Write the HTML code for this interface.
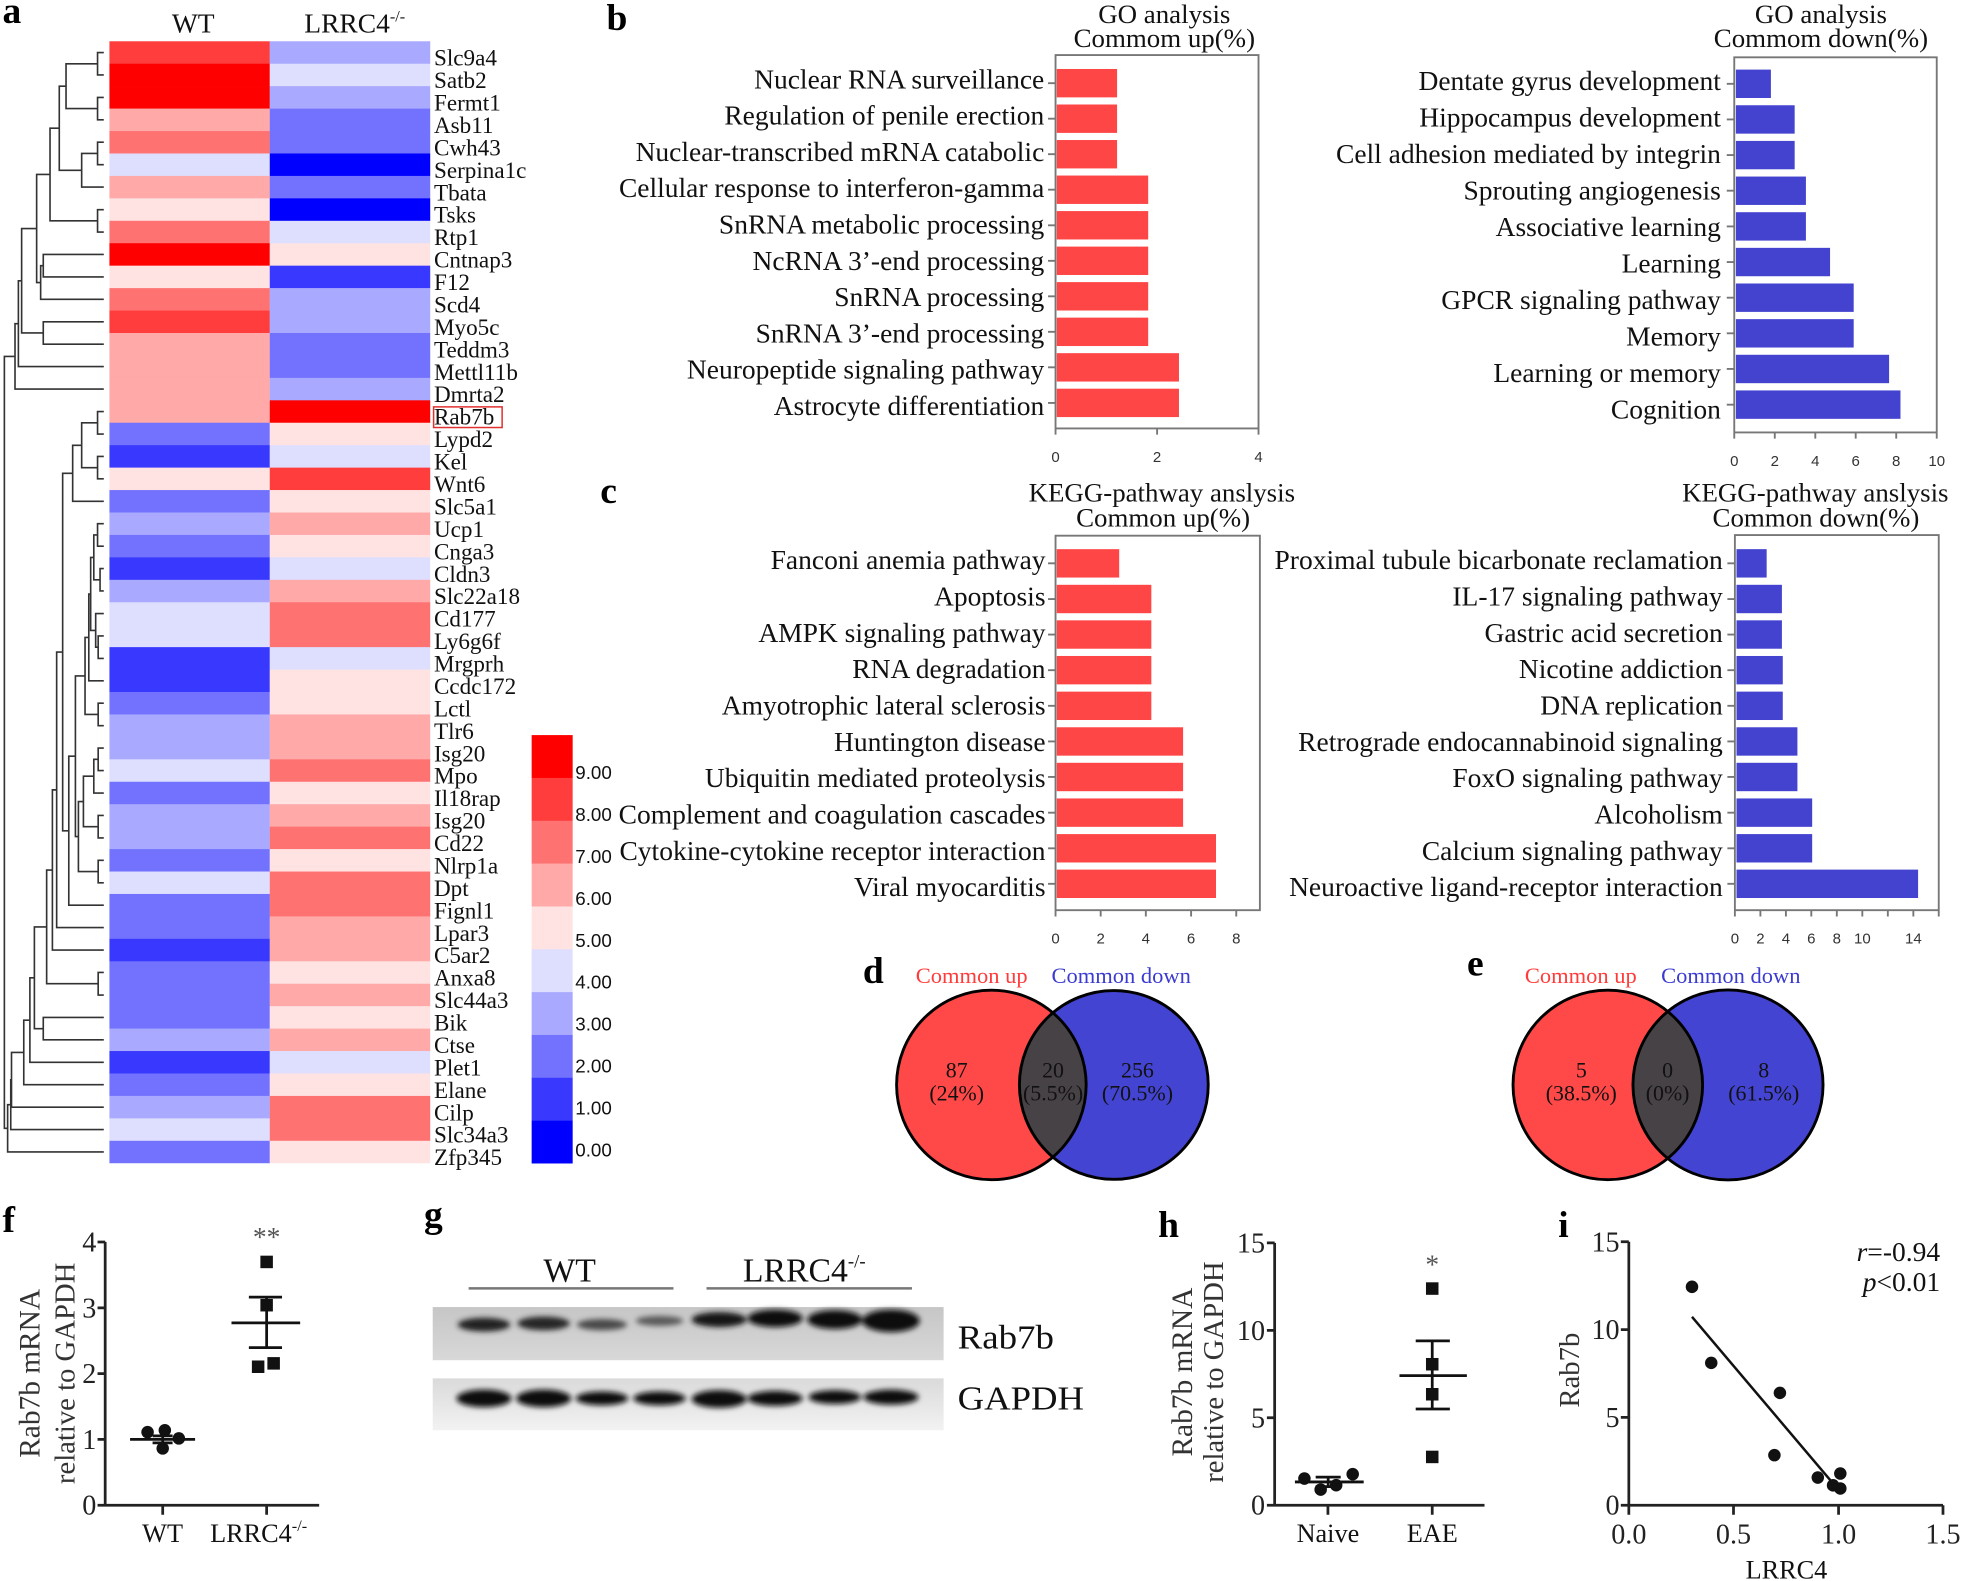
<!DOCTYPE html>
<html><head><meta charset="utf-8"><style>
html,body{margin:0;padding:0;background:#fff}
svg{display:block}
.c0{fill:#0000FF}.c1{fill:#3838FF}.c2{fill:#7272FF}.c3{fill:#A9A9FF}.c4{fill:#DEDEFF}
.c5{fill:#FFE3E3}.c6{fill:#FFA9A9}.c7{fill:#FF7272}.c8{fill:#FF3D3D}.c9{fill:#FF0000}
.gn{font-size:18.5px;fill:#111}
.cat{font-size:22px;fill:#111;text-anchor:end}
.ttl{font-size:21.5px;fill:#111;text-anchor:middle}
.tk{font-family:"Liberation Sans",sans-serif;font-size:12px;fill:#333;text-anchor:middle}
.pl{font-size:30px;font-weight:bold;fill:#000}
.rb{fill:#FF4646}.bb{fill:#4343CF}
.ax{font-size:21px;fill:#111}
.ay{font-size:22.5px;fill:#222}
</style></head><body>
<svg width="1961" height="1581" viewBox="0 0 1568 1264" preserveAspectRatio="none" font-family="'Liberation Serif', serif" xmlns="http://www.w3.org/2000/svg">
<defs>
<filter id="bl" x="-30%" y="-80%" width="160%" height="260%"><feGaussianBlur stdDeviation="2.2"/></filter>
<linearGradient id="gb1" x1="0" y1="0" x2="0" y2="1"><stop offset="0" stop-color="#c6c6c6"/><stop offset="1" stop-color="#d8d8d8"/></linearGradient>
<linearGradient id="gb2" x1="0" y1="0" x2="0" y2="1"><stop offset="0" stop-color="#dadada"/><stop offset="1" stop-color="#f2f2f2"/></linearGradient>
<clipPath id="cd"><circle cx="792.7" cy="867.4" r="75.8"/></clipPath>
<clipPath id="ce"><circle cx="1285.6" cy="867.4" r="75.8"/></clipPath>
</defs>

<!-- Panel letters -->
<text class="pl" x="2" y="18.5">a</text>
<text class="pl" x="485" y="24">b</text>
<text class="pl" x="480" y="402">c</text>
<text class="pl" x="690" y="786">d</text>
<text class="pl" x="1173" y="780">e</text>
<text class="pl" x="2" y="985">f</text>
<text class="pl" x="339" y="981">g</text>
<text class="pl" x="926" y="989">h</text>
<text class="pl" x="1246" y="989">i</text>

<!-- Heatmap header -->
<text x="154.5" y="26" font-size="22" fill="#111" text-anchor="middle">WT</text>
<text x="243.3" y="26" font-size="22" fill="#111">LRRC4<tspan font-size="13" dy="-9">-/-</tspan></text>

<!-- Heatmap cells -->
<g>
<rect x="87.5" y="33" width="128.3" height="18.2" class="c8"/><rect x="215.7" y="33" width="128.3" height="18.2" class="c3"/>
<rect x="87.5" y="50.94" width="128.3" height="18.2" class="c9"/><rect x="215.7" y="50.94" width="128.3" height="18.2" class="c4"/>
<rect x="87.5" y="68.88" width="128.3" height="18.2" class="c9"/><rect x="215.7" y="68.88" width="128.3" height="18.2" class="c3"/>
<rect x="87.5" y="86.82" width="128.3" height="18.2" class="c6"/><rect x="215.7" y="86.82" width="128.3" height="18.2" class="c2"/>
<rect x="87.5" y="104.76" width="128.3" height="18.2" class="c7"/><rect x="215.7" y="104.76" width="128.3" height="18.2" class="c2"/>
<rect x="87.5" y="122.7" width="128.3" height="18.2" class="c4"/><rect x="215.7" y="122.7" width="128.3" height="18.2" class="c0"/>
<rect x="87.5" y="140.64" width="128.3" height="18.2" class="c6"/><rect x="215.7" y="140.64" width="128.3" height="18.2" class="c2"/>
<rect x="87.5" y="158.58" width="128.3" height="18.2" class="c5"/><rect x="215.7" y="158.58" width="128.3" height="18.2" class="c0"/>
<rect x="87.5" y="176.52" width="128.3" height="18.2" class="c7"/><rect x="215.7" y="176.52" width="128.3" height="18.2" class="c4"/>
<rect x="87.5" y="194.46" width="128.3" height="18.2" class="c9"/><rect x="215.7" y="194.46" width="128.3" height="18.2" class="c5"/>
<rect x="87.5" y="212.4" width="128.3" height="18.2" class="c5"/><rect x="215.7" y="212.4" width="128.3" height="18.2" class="c1"/>
<rect x="87.5" y="230.34" width="128.3" height="18.2" class="c7"/><rect x="215.7" y="230.34" width="128.3" height="18.2" class="c3"/>
<rect x="87.5" y="248.28" width="128.3" height="18.2" class="c8"/><rect x="215.7" y="248.28" width="128.3" height="18.2" class="c3"/>
<rect x="87.5" y="266.22" width="128.3" height="18.2" class="c6"/><rect x="215.7" y="266.22" width="128.3" height="18.2" class="c2"/>
<rect x="87.5" y="284.16" width="128.3" height="18.2" class="c6"/><rect x="215.7" y="284.16" width="128.3" height="18.2" class="c2"/>
<rect x="87.5" y="302.1" width="128.3" height="18.2" class="c6"/><rect x="215.7" y="302.1" width="128.3" height="18.2" class="c3"/>
<rect x="87.5" y="320.04" width="128.3" height="18.2" class="c6"/><rect x="215.7" y="320.04" width="128.3" height="18.2" class="c9"/>
<rect x="87.5" y="337.98" width="128.3" height="18.2" class="c2"/><rect x="215.7" y="337.98" width="128.3" height="18.2" class="c5"/>
<rect x="87.5" y="355.92" width="128.3" height="18.2" class="c1"/><rect x="215.7" y="355.92" width="128.3" height="18.2" class="c4"/>
<rect x="87.5" y="373.86" width="128.3" height="18.2" class="c5"/><rect x="215.7" y="373.86" width="128.3" height="18.2" class="c8"/>
<rect x="87.5" y="391.8" width="128.3" height="18.2" class="c2"/><rect x="215.7" y="391.8" width="128.3" height="18.2" class="c5"/>
<rect x="87.5" y="409.74" width="128.3" height="18.2" class="c3"/><rect x="215.7" y="409.74" width="128.3" height="18.2" class="c6"/>
<rect x="87.5" y="427.68" width="128.3" height="18.2" class="c2"/><rect x="215.7" y="427.68" width="128.3" height="18.2" class="c5"/>
<rect x="87.5" y="445.62" width="128.3" height="18.2" class="c1"/><rect x="215.7" y="445.62" width="128.3" height="18.2" class="c4"/>
<rect x="87.5" y="463.56" width="128.3" height="18.2" class="c3"/><rect x="215.7" y="463.56" width="128.3" height="18.2" class="c6"/>
<rect x="87.5" y="481.5" width="128.3" height="18.2" class="c4"/><rect x="215.7" y="481.5" width="128.3" height="18.2" class="c7"/>
<rect x="87.5" y="499.44" width="128.3" height="18.2" class="c4"/><rect x="215.7" y="499.44" width="128.3" height="18.2" class="c7"/>
<rect x="87.5" y="517.38" width="128.3" height="18.2" class="c1"/><rect x="215.7" y="517.38" width="128.3" height="18.2" class="c4"/>
<rect x="87.5" y="535.32" width="128.3" height="18.2" class="c1"/><rect x="215.7" y="535.32" width="128.3" height="18.2" class="c5"/>
<rect x="87.5" y="553.26" width="128.3" height="18.2" class="c2"/><rect x="215.7" y="553.26" width="128.3" height="18.2" class="c5"/>
<rect x="87.5" y="571.2" width="128.3" height="18.2" class="c3"/><rect x="215.7" y="571.2" width="128.3" height="18.2" class="c6"/>
<rect x="87.5" y="589.14" width="128.3" height="18.2" class="c3"/><rect x="215.7" y="589.14" width="128.3" height="18.2" class="c6"/>
<rect x="87.5" y="607.08" width="128.3" height="18.2" class="c4"/><rect x="215.7" y="607.08" width="128.3" height="18.2" class="c7"/>
<rect x="87.5" y="625.02" width="128.3" height="18.2" class="c2"/><rect x="215.7" y="625.02" width="128.3" height="18.2" class="c5"/>
<rect x="87.5" y="642.96" width="128.3" height="18.2" class="c3"/><rect x="215.7" y="642.96" width="128.3" height="18.2" class="c6"/>
<rect x="87.5" y="660.9" width="128.3" height="18.2" class="c3"/><rect x="215.7" y="660.9" width="128.3" height="18.2" class="c7"/>
<rect x="87.5" y="678.84" width="128.3" height="18.2" class="c2"/><rect x="215.7" y="678.84" width="128.3" height="18.2" class="c5"/>
<rect x="87.5" y="696.78" width="128.3" height="18.2" class="c4"/><rect x="215.7" y="696.78" width="128.3" height="18.2" class="c7"/>
<rect x="87.5" y="714.72" width="128.3" height="18.2" class="c2"/><rect x="215.7" y="714.72" width="128.3" height="18.2" class="c7"/>
<rect x="87.5" y="732.66" width="128.3" height="18.2" class="c2"/><rect x="215.7" y="732.66" width="128.3" height="18.2" class="c6"/>
<rect x="87.5" y="750.6" width="128.3" height="18.2" class="c1"/><rect x="215.7" y="750.6" width="128.3" height="18.2" class="c6"/>
<rect x="87.5" y="768.54" width="128.3" height="18.2" class="c2"/><rect x="215.7" y="768.54" width="128.3" height="18.2" class="c5"/>
<rect x="87.5" y="786.48" width="128.3" height="18.2" class="c2"/><rect x="215.7" y="786.48" width="128.3" height="18.2" class="c6"/>
<rect x="87.5" y="804.42" width="128.3" height="18.2" class="c2"/><rect x="215.7" y="804.42" width="128.3" height="18.2" class="c5"/>
<rect x="87.5" y="822.36" width="128.3" height="18.2" class="c3"/><rect x="215.7" y="822.36" width="128.3" height="18.2" class="c6"/>
<rect x="87.5" y="840.3" width="128.3" height="18.2" class="c1"/><rect x="215.7" y="840.3" width="128.3" height="18.2" class="c4"/>
<rect x="87.5" y="858.24" width="128.3" height="18.2" class="c2"/><rect x="215.7" y="858.24" width="128.3" height="18.2" class="c5"/>
<rect x="87.5" y="876.18" width="128.3" height="18.2" class="c3"/><rect x="215.7" y="876.18" width="128.3" height="18.2" class="c7"/>
<rect x="87.5" y="894.12" width="128.3" height="18.2" class="c4"/><rect x="215.7" y="894.12" width="128.3" height="18.2" class="c7"/>
<rect x="87.5" y="912.06" width="128.3" height="17.94" class="c2"/><rect x="215.7" y="912.06" width="128.3" height="17.94" class="c5"/>
</g>

<!-- Gene labels -->
<g class="gn">
<text x="347" y="52.5">Slc9a4</text>
<text x="347" y="70.44">Satb2</text>
<text x="347" y="88.38">Fermt1</text>
<text x="347" y="106.32">Asb11</text>
<text x="347" y="124.26">Cwh43</text>
<text x="347" y="142.2">Serpina1c</text>
<text x="347" y="160.14">Tbata</text>
<text x="347" y="178.08">Tsks</text>
<text x="347" y="196.02">Rtp1</text>
<text x="347" y="213.96">Cntnap3</text>
<text x="347" y="231.9">F12</text>
<text x="347" y="249.84">Scd4</text>
<text x="347" y="267.78">Myo5c</text>
<text x="347" y="285.72">Teddm3</text>
<text x="347" y="303.66">Mettl11b</text>
<text x="347" y="321.6">Dmrta2</text>
<text x="347" y="339.54">Rab7b</text>
<text x="347" y="357.48">Lypd2</text>
<text x="347" y="375.42">Kel</text>
<text x="347" y="393.36">Wnt6</text>
<text x="347" y="411.3">Slc5a1</text>
<text x="347" y="429.24">Ucp1</text>
<text x="347" y="447.18">Cnga3</text>
<text x="347" y="465.12">Cldn3</text>
<text x="347" y="483.06">Slc22a18</text>
<text x="347" y="501">Cd177</text>
<text x="347" y="518.94">Ly6g6f</text>
<text x="347" y="536.88">Mrgprh</text>
<text x="347" y="554.82">Ccdc172</text>
<text x="347" y="572.76">Lctl</text>
<text x="347" y="590.7">Tlr6</text>
<text x="347" y="608.64">Isg20</text>
<text x="347" y="626.58">Mpo</text>
<text x="347" y="644.52">Il18rap</text>
<text x="347" y="662.46">Isg20</text>
<text x="347" y="680.4">Cd22</text>
<text x="347" y="698.34">Nlrp1a</text>
<text x="347" y="716.28">Dpt</text>
<text x="347" y="734.22">Fignl1</text>
<text x="347" y="752.16">Lpar3</text>
<text x="347" y="770.1">C5ar2</text>
<text x="347" y="788.04">Anxa8</text>
<text x="347" y="805.98">Slc44a3</text>
<text x="347" y="823.92">Bik</text>
<text x="347" y="841.86">Ctse</text>
<text x="347" y="859.8">Plet1</text>
<text x="347" y="877.74">Elane</text>
<text x="347" y="895.68">Cilp</text>
<text x="347" y="913.62">Slc34a3</text>
<text x="347" y="931.56">Zfp345</text>
</g>
<rect x="346.7" y="325.3" width="54.8" height="16.5" fill="none" stroke="#e03030" stroke-width="1.2"/>

<!-- Dendrogram -->
<path fill="none" stroke="#333" stroke-width="1.3" d="
M83 42 H78 V59.9 H83
M83 77.9 H78 V95.8 H83
M78 51 H52.8 V86.8 H78
M83 113.7 H78 V131.7 H83
M78 122.7 H65.3 V149.6 H83
M52.8 68.9 H47.4 V136.2 H65.3
M83 167.6 H78 V185.5 H83
M47.4 102.5 H40 V176.5 H78
M83 203.4 H34.6 V221.4 H83
M34.6 212.4 H32.5 V239.3 H83
M40 139.5 H29.3 V225.9 H32.5
M83 257.3 H34.6 V275.2 H83
M29.3 182.7 H17.3 V266.2 H34.6
M17.3 224.5 H14.7 V293.1 H83
M14.7 258.8 H12 V311.1 H83
M83 329 H78 V347 H83
M83 364.9 H78 V382.8 H83
M78 338 H65.3 V373.9 H78
M65.3 356 H58.1 V400.8 H83
M83 418.7 H78 V436.7 H83
M83 454.6 H80 V472.5 H83
M78 427.7 H75 V463.6 H80
M83 508.4 H78.5 V526.4 H83
M83 490.5 H76.5 V517.4 H78.5
M75 445.7 H72.5 V504 H76.5
M72.5 474.9 H71 V544.3 H83
M83 562.2 H78.5 V580.2 H83
M71 509.6 H68 V571.2 H78.5
M83 598.1 H78.5 V616.1 H83
M78.5 607.1 H75 V634 H83
M83 651.9 H78.5 V669.9 H83
M75 620.6 H66.7 V660.9 H78.5
M83 687.8 H78.5 V705.8 H83
M66.7 640.8 H62.7 V696.8 H78.5
M68 540.4 H60.3 V668.8 H62.7
M60.3 604.6 H55 V723.7 H83
M58.1 378.4 H50.1 V664.2 H55
M50.1 521.3 H45.3 V741.6 H83
M45.3 631.5 H41.9 V759.6 H83
M83 777.5 H78.5 V795.5 H83
M41.9 695.6 H37.3 V786.5 H78.5
M83 813.4 H34.6 V831.3 H83
M37.3 741.1 H27.5 V822.4 H34.6
M27.5 781.8 H23.9 V849.3 H83
M23.9 815.6 H19 V867.2 H83
M19 841.4 H9.2 V885.2 H83
M9.2 863.3 H8.6 V903.1 H83
M8.6 883.2 H6.1 V921 H83
M12 285 H3.5 V902.1 H6.1"/>

<!-- Colorbar -->
<g>
<rect x="425.1" y="587.7" width="32.8" height="34.5" class="c9"/>
<rect x="425.1" y="621.95" width="32.8" height="34.5" class="c8"/>
<rect x="425.1" y="656.2" width="32.8" height="34.5" class="c7"/>
<rect x="425.1" y="690.45" width="32.8" height="34.5" class="c6"/>
<rect x="425.1" y="724.7" width="32.8" height="34.5" class="c5"/>
<rect x="425.1" y="758.95" width="32.8" height="34.5" class="c4"/>
<rect x="425.1" y="793.2" width="32.8" height="34.5" class="c3"/>
<rect x="425.1" y="827.45" width="32.8" height="34.5" class="c2"/>
<rect x="425.1" y="861.7" width="32.8" height="34.5" class="c1"/>
<rect x="425.1" y="895.95" width="32.8" height="34.25" class="c0"/>
</g>
<g font-family="'Liberation Sans', sans-serif" font-size="15" fill="#111">
<text x="460" y="623">9.00</text>
<text x="460" y="656.5">8.00</text>
<text x="460" y="690">7.00</text>
<text x="460" y="723.5">6.00</text>
<text x="460" y="757">5.00</text>
<text x="460" y="790.5">4.00</text>
<text x="460" y="824">3.00</text>
<text x="460" y="857.5">2.00</text>
<text x="460" y="891">1.00</text>
<text x="460" y="924.5">0.00</text>
</g>

<!-- Panel b left -->
<text class="ttl" x="931" y="18.5">GO analysis</text>
<text class="ttl" x="931" y="37.5">Commom up(%)</text>
<g class="rb">
<rect x="845" y="55.15" width="48.2" height="22.7"/>
<rect x="845" y="83.55" width="48.2" height="22.7"/>
<rect x="845" y="111.95" width="48.2" height="22.7"/>
<rect x="845" y="140.35" width="73.1" height="22.7"/>
<rect x="845" y="168.75" width="73.1" height="22.7"/>
<rect x="845" y="197.15" width="73.1" height="22.7"/>
<rect x="845" y="225.55" width="73.1" height="22.7"/>
<rect x="845" y="253.95" width="73.1" height="22.7"/>
<rect x="845" y="282.35" width="97.7" height="22.7"/>
<rect x="845" y="310.75" width="97.7" height="22.7"/>
</g>
<path fill="none" stroke="#777" stroke-width="1.5" d="M844 44 V342.5 H1006.3 V44 Z M844 342.5 v5 M925.2 342.5 v5 M1006.3 342.5 v5
M838 66.5 h6 M838 94.9 h6 M838 123.3 h6 M838 151.7 h6 M838 180.1 h6 M838 208.5 h6 M838 236.9 h6 M838 265.3 h6 M838 293.7 h6 M838 322.1 h6"/>
<g class="cat">
<text x="835" y="70.6">Nuclear RNA surveillance</text>
<text x="835" y="99.6">Regulation of penile erection</text>
<text x="835" y="128.6">Nuclear-transcribed mRNA catabolic</text>
<text x="835" y="157.7">Cellular response to interferon-gamma</text>
<text x="835" y="186.7">SnRNA metabolic processing</text>
<text x="835" y="215.7">NcRNA 3’-end processing</text>
<text x="835" y="244.7">SnRNA processing</text>
<text x="835" y="273.7">SnRNA 3’-end processing</text>
<text x="835" y="302.8">Neuropeptide signaling pathway</text>
<text x="835" y="331.8">Astrocyte differentiation</text>
</g>
<g class="tk">
<text x="844" y="369.5">0</text><text x="925.2" y="369.5">2</text><text x="1006.3" y="369.5">4</text>
</g>

<!-- Panel b right -->
<text class="ttl" x="1456" y="18.5">GO analysis</text>
<text class="ttl" x="1456" y="37.5">Commom down(%)</text>
<g class="bb">
<rect x="1388" y="55.65" width="28" height="22.7"/>
<rect x="1388" y="84.15" width="47" height="22.7"/>
<rect x="1388" y="112.65" width="47" height="22.7"/>
<rect x="1388" y="141.15" width="56" height="22.7"/>
<rect x="1388" y="169.65" width="56" height="22.7"/>
<rect x="1388" y="198.15" width="75.3" height="22.7"/>
<rect x="1388" y="226.65" width="94.2" height="22.7"/>
<rect x="1388" y="255.15" width="94.2" height="22.7"/>
<rect x="1388" y="283.65" width="122.5" height="22.7"/>
<rect x="1388" y="312.15" width="131.6" height="22.7"/>
</g>
<path fill="none" stroke="#777" stroke-width="1.5" d="M1386.7 45.8 V345.7 H1548.6 V45.8 Z
M1386.7 345.7 v5 M1419.1 345.7 v5 M1451.5 345.7 v5 M1483.8 345.7 v5 M1516.2 345.7 v5 M1548.6 345.7 v5
M1380.7 67 h6 M1380.7 95.5 h6 M1380.7 124 h6 M1380.7 152.5 h6 M1380.7 181 h6 M1380.7 209.5 h6 M1380.7 238 h6 M1380.7 266.5 h6 M1380.7 295 h6 M1380.7 323.5 h6"/>
<g class="cat">
<text x="1376" y="72">Dentate gyrus development</text>
<text x="1376" y="101.2">Hippocampus development</text>
<text x="1376" y="130.3">Cell adhesion mediated by integrin</text>
<text x="1376" y="159.5">Sprouting angiogenesis</text>
<text x="1376" y="188.7">Associative learning</text>
<text x="1376" y="217.9">Learning</text>
<text x="1376" y="247">GPCR signaling pathway</text>
<text x="1376" y="276.2">Memory</text>
<text x="1376" y="305.4">Learning or memory</text>
<text x="1376" y="334.5">Cognition</text>
</g>
<g class="tk">
<text x="1386.7" y="372.5">0</text><text x="1419.1" y="372.5">2</text><text x="1451.5" y="372.5">4</text><text x="1483.8" y="372.5">6</text><text x="1516.2" y="372.5">8</text><text x="1548.6" y="372.5">10</text>
</g>

<!-- Panel c left -->
<text class="ttl" x="929" y="401">KEGG-pathway anslysis</text>
<text class="ttl" x="930" y="421">Common up(%)</text>
<g class="rb">
<rect x="845" y="439.05" width="49.9" height="22.7"/>
<rect x="845" y="467.55" width="75.6" height="22.7"/>
<rect x="845" y="495.95" width="75.6" height="22.7"/>
<rect x="845" y="524.45" width="75.6" height="22.7"/>
<rect x="845" y="552.95" width="75.6" height="22.7"/>
<rect x="845" y="581.45" width="101" height="22.7"/>
<rect x="845" y="609.85" width="101" height="22.7"/>
<rect x="845" y="638.35" width="101" height="22.7"/>
<rect x="845" y="666.85" width="127.3" height="22.7"/>
<rect x="845" y="695.25" width="127.3" height="22.7"/>
</g>
<path fill="none" stroke="#777" stroke-width="1.5" d="M844 428.3 V727.7 H1007.4 V428.3 Z
M844 727.7 v5 M880.1 727.7 v5 M916.2 727.7 v5 M952.4 727.7 v5 M988.5 727.7 v5
M838 450.4 h6 M838 478.9 h6 M838 507.3 h6 M838 535.8 h6 M838 564.3 h6 M838 592.8 h6 M838 621.2 h6 M838 649.7 h6 M838 678.2 h6 M838 706.6 h6"/>
<g class="cat">
<text x="836" y="455">Fanconi anemia pathway</text>
<text x="836" y="484.1">Apoptosis</text>
<text x="836" y="513.1">AMPK signaling pathway</text>
<text x="836" y="542.2">RNA degradation</text>
<text x="836" y="571.2">Amyotrophic lateral sclerosis</text>
<text x="836" y="600.3">Huntington disease</text>
<text x="836" y="629.4">Ubiquitin mediated proteolysis</text>
<text x="836" y="658.4">Complement and coagulation cascades</text>
<text x="836" y="687.5">Cytokine-cytokine receptor interaction</text>
<text x="836" y="716.5">Viral myocarditis</text>
</g>
<g class="tk">
<text x="844" y="754.5">0</text><text x="880.1" y="754.5">2</text><text x="916.2" y="754.5">4</text><text x="952.4" y="754.5">6</text><text x="988.5" y="754.5">8</text>
</g>

<!-- Panel c right -->
<text class="ttl" x="1451.5" y="401">KEGG-pathway anslysis</text>
<text class="ttl" x="1452" y="421">Common down(%)</text>
<g class="bb">
<rect x="1388.5" y="439.05" width="24.1" height="22.7"/>
<rect x="1388.5" y="467.55" width="36.3" height="22.7"/>
<rect x="1388.5" y="495.95" width="36.3" height="22.7"/>
<rect x="1388.5" y="524.45" width="37" height="22.7"/>
<rect x="1388.5" y="552.95" width="37" height="22.7"/>
<rect x="1388.5" y="581.45" width="48.7" height="22.7"/>
<rect x="1388.5" y="609.85" width="48.7" height="22.7"/>
<rect x="1388.5" y="638.35" width="60.5" height="22.7"/>
<rect x="1388.5" y="666.85" width="60.5" height="22.7"/>
<rect x="1388.5" y="695.25" width="145.2" height="22.7"/>
</g>
<path fill="none" stroke="#777" stroke-width="1.5" d="M1387.2 427.8 V727.7 H1550.2 V427.8 Z
M1387.2 727.7 v5 M1407.6 727.7 v5 M1428 727.7 v5 M1448.3 727.7 v5 M1468.7 727.7 v5 M1489.1 727.7 v5 M1509.5 727.7 v5 M1529.9 727.7 v5 M1550.2 727.7 v5
M1381.2 450.4 h6 M1381.2 478.9 h6 M1381.2 507.3 h6 M1381.2 535.8 h6 M1381.2 564.3 h6 M1381.2 592.8 h6 M1381.2 621.2 h6 M1381.2 649.7 h6 M1381.2 678.2 h6 M1381.2 706.6 h6"/>
<g class="cat">
<text x="1377.5" y="455">Proximal tubule bicarbonate reclamation</text>
<text x="1377.5" y="484.1">IL-17 signaling pathway</text>
<text x="1377.5" y="513.1">Gastric acid secretion</text>
<text x="1377.5" y="542.2">Nicotine addiction</text>
<text x="1377.5" y="571.2">DNA replication</text>
<text x="1377.5" y="600.3">Retrograde endocannabinoid signaling</text>
<text x="1377.5" y="629.4">FoxO signaling pathway</text>
<text x="1377.5" y="658.4">Alcoholism</text>
<text x="1377.5" y="687.5">Calcium signaling pathway</text>
<text x="1377.5" y="716.5">Neuroactive ligand-receptor interaction</text>
</g>
<g class="tk">
<text x="1387.2" y="754.5">0</text><text x="1407.6" y="754.5">2</text><text x="1428" y="754.5">4</text><text x="1448.3" y="754.5">6</text><text x="1468.7" y="754.5">8</text><text x="1489.1" y="754.5">10</text><text x="1529.9" y="754.5">14</text>
</g>

<!-- Venn d -->
<text x="777" y="786" font-size="18" fill="#FF3B3B" text-anchor="middle">Common  up</text>
<text x="896.5" y="786" font-size="18" fill="#3B3BD0" text-anchor="middle">Common  down</text>
<circle cx="792.7" cy="867.4" r="75.8" fill="#FF4848"/>
<circle cx="890.6" cy="867.4" r="75.5" fill="#4444D2"/>
<circle cx="890.6" cy="867.4" r="75.5" fill="#464246" clip-path="url(#cd)"/>
<circle cx="792.7" cy="867.4" r="75.8" fill="none" stroke="#000" stroke-width="2.3"/>
<circle cx="890.6" cy="867.4" r="75.5" fill="none" stroke="#000" stroke-width="2.3"/>
<g font-size="17.5" fill="#111" text-anchor="middle">
<text x="765" y="861.5">87</text><text x="765" y="880">(24%)</text>
<text x="842" y="861.5">20</text><text x="842" y="880">(5.5%)</text>
<text x="909.5" y="861.5">256</text><text x="909.5" y="880">(70.5%)</text>
</g>

<!-- Venn e -->
<text x="1264" y="786" font-size="18" fill="#FF3B3B" text-anchor="middle">Common  up</text>
<text x="1384" y="786" font-size="18" fill="#3B3BD0" text-anchor="middle">Common  down</text>
<circle cx="1285.6" cy="867.4" r="75.8" fill="#FF4848"/>
<circle cx="1381.7" cy="867.4" r="76" fill="#4444D2"/>
<circle cx="1381.7" cy="867.4" r="76" fill="#464246" clip-path="url(#ce)"/>
<circle cx="1285.6" cy="867.4" r="75.8" fill="none" stroke="#000" stroke-width="2.3"/>
<circle cx="1381.7" cy="867.4" r="76" fill="none" stroke="#000" stroke-width="2.3"/>
<g font-size="17.5" fill="#111" text-anchor="middle">
<text x="1264.4" y="861.5">5</text><text x="1264.4" y="880">(38.5%)</text>
<text x="1333.4" y="861.5">0</text><text x="1333.4" y="880">(0%)</text>
<text x="1410.3" y="861.5">8</text><text x="1410.3" y="880">(61.5%)</text>
</g>

<!-- Panel f -->
<text transform="translate(31.5,1098) rotate(-90)" text-anchor="middle" font-size="24" fill="#333" textLength="135" lengthAdjust="spacingAndGlyphs">Rab7b mRNA</text>
<text transform="translate(59.5,1098) rotate(-90)" text-anchor="middle" font-size="23" fill="#333" textLength="177" lengthAdjust="spacingAndGlyphs">relative to GAPDH</text>
<path fill="none" stroke="#222" stroke-width="2.2" d="M84.1 992.9 V1203.4 H255.2 M78 1203.4 H84.1 M78 1150.8 H84.1 M78 1098.2 H84.1 M78 1045.6 H84.1 M78 993 H84.1 M130.1 1203.4 V1211 M213.2 1203.4 V1211"/>
<g class="ay" text-anchor="end">
<text x="77" y="1211">0</text><text x="77" y="1158.4">1</text><text x="77" y="1105.8">2</text><text x="77" y="1053.2">3</text><text x="77" y="1000.6">4</text>
</g>
<text class="ax" x="130" y="1233" text-anchor="middle">WT</text>
<text class="ax" x="168" y="1233" font-size="22">LRRC4<tspan font-size="13" dy="-9">-/-</tspan></text>
<g fill="#111">
<circle cx="118" cy="1145" r="5"/><circle cx="131.8" cy="1143.5" r="5"/><circle cx="143" cy="1150" r="5"/><circle cx="130.1" cy="1158" r="5"/>
<rect x="208.2" y="1003.9" width="10" height="10"/><rect x="208.2" y="1038.5" width="10" height="10"/><rect x="201.4" y="1087.7" width="10" height="10"/><rect x="213.8" y="1085" width="10" height="10"/>
</g>
<path fill="none" stroke="#111" stroke-width="2.2" d="M104 1150.8 H156 M122 1148 H138 M122 1153.6 H138 M130.1 1148 V1153.6 M185.1 1057.6 H240 M213.2 1037 V1077.4 M199 1037 H225.5 M199 1077.4 H225.5"/>
<text x="213.2" y="996" font-size="22" fill="#555" text-anchor="middle">**</text>

<!-- Panel g -->
<text x="455.5" y="1024.5" font-size="27" fill="#111" text-anchor="middle">WT</text>
<text x="594" y="1024.5" font-size="27" fill="#111">LRRC4<tspan font-size="15" dy="-11">-/-</tspan></text>
<path d="M374.7 1030 H538.5 M564.9 1030 H729.2" stroke="#777" stroke-width="2"/>
<rect x="346" y="1045" width="408.5" height="42.5" fill="url(#gb1)"/>
<g filter="url(#bl)">
<ellipse cx="387" cy="1059" rx="21" ry="5.5" fill="#202020"/>
<ellipse cx="434.7" cy="1058" rx="21" ry="5.5" fill="#282828"/>
<ellipse cx="481.3" cy="1059" rx="20" ry="4.5" fill="#4a4a4a"/>
<ellipse cx="527.3" cy="1056" rx="19" ry="4" fill="#5a5a5a"/>
<ellipse cx="575" cy="1055" rx="22" ry="6" fill="#151515"/>
<ellipse cx="619.8" cy="1054" rx="22" ry="7" fill="#101010"/>
<ellipse cx="667.5" cy="1055" rx="22" ry="7.5" fill="#0c0c0c"/>
<ellipse cx="712.4" cy="1056" rx="23" ry="9" fill="#080808"/>
</g>
<rect x="346" y="1102" width="408.5" height="41.5" fill="url(#gb2)"/>
<g filter="url(#bl)" fill="#0d0d0d">
<ellipse cx="387" cy="1118" rx="22" ry="7"/>
<ellipse cx="434.7" cy="1118" rx="22" ry="7"/>
<ellipse cx="481.3" cy="1118" rx="21" ry="5.5"/>
<ellipse cx="527.3" cy="1118" rx="21" ry="5.5"/>
<ellipse cx="575" cy="1118.5" rx="22" ry="7"/>
<ellipse cx="619.8" cy="1118" rx="22" ry="6"/>
<ellipse cx="667.5" cy="1117" rx="21" ry="5.5"/>
<ellipse cx="712.4" cy="1117" rx="22" ry="6"/>
</g>
<text x="765.7" y="1078" font-size="27" fill="#111" textLength="77" lengthAdjust="spacingAndGlyphs">Rab7b</text>
<text x="765.7" y="1127" font-size="27" fill="#111" textLength="101" lengthAdjust="spacingAndGlyphs">GAPDH</text>

<!-- Panel h -->
<text transform="translate(953,1097) rotate(-90)" text-anchor="middle" font-size="24" fill="#333" textLength="135" lengthAdjust="spacingAndGlyphs">Rab7b mRNA</text>
<text transform="translate(978,1097) rotate(-90)" text-anchor="middle" font-size="23" fill="#333" textLength="177" lengthAdjust="spacingAndGlyphs">relative to GAPDH</text>
<path fill="none" stroke="#222" stroke-width="2.2" d="M1019.2 993.7 V1203.4 H1187 M1013 1203.4 H1019.2 M1013 1133.5 H1019.2 M1013 1063.6 H1019.2 M1013 993.7 H1019.2 M1061.8 1203.4 V1211 M1145.2 1203.4 V1211"/>
<g class="ay" text-anchor="end">
<text x="1011.5" y="1211">0</text><text x="1011.5" y="1141.1">5</text><text x="1011.5" y="1071.2">10</text><text x="1011.5" y="1001.3">15</text>
</g>
<text class="ax" x="1061.8" y="1233" text-anchor="middle">Naive</text>
<text class="ax" x="1145.2" y="1233" text-anchor="middle">EAE</text>
<g fill="#111">
<circle cx="1043" cy="1182.1" r="5"/><circle cx="1056" cy="1190.9" r="5"/><circle cx="1068.4" cy="1187.4" r="5"/><circle cx="1081.6" cy="1178.6" r="5"/>
<rect x="1140.2" y="1025.2" width="10" height="10"/><rect x="1140.2" y="1085.7" width="10" height="10"/><rect x="1140.2" y="1109.7" width="10" height="10"/><rect x="1140.2" y="1159.8" width="10" height="10"/>
</g>
<path fill="none" stroke="#111" stroke-width="2.2" d="M1035.4 1184.8 H1090.4 M1052 1181 H1072 M1052 1188.5 H1072 M1062 1181 V1188.5 M1119 1099.8 H1172.9 M1145.2 1072 V1126.5 M1132 1072 H1159.3 M1132 1126.5 H1159.3"/>
<text x="1145.2" y="1018" font-size="22" fill="#555" text-anchor="middle">*</text>

<!-- Panel i -->
<text transform="translate(1262.5,1095.4) rotate(-90)" text-anchor="middle" font-size="23" fill="#333">Rab7b</text>
<path fill="none" stroke="#222" stroke-width="2.2" d="M1302.4 992.8 V1203.4 H1553.6 M1296 1203.4 H1302.4 M1296 1133.2 H1302.4 M1296 1063 H1302.4 M1296 992.8 H1302.4 M1302.4 1203.4 V1211 M1386.1 1203.4 V1211 M1470.1 1203.4 V1211 M1553.6 1203.4 V1211"/>
<g class="ay" text-anchor="end">
<text x="1295" y="1211">0</text><text x="1295" y="1140.8">5</text><text x="1295" y="1070.6">10</text><text x="1295" y="1000.4">15</text>
</g>
<g class="ay" text-anchor="middle">
<text x="1302.4" y="1234">0.0</text><text x="1386.1" y="1234">0.5</text><text x="1470.1" y="1234">1.0</text><text x="1553.6" y="1234">1.5</text>
</g>
<text class="ax" x="1428.4" y="1262" text-anchor="middle">LRRC4</text>
<g fill="#111">
<circle cx="1352.9" cy="1028.8" r="5"/><circle cx="1368.3" cy="1089.6" r="5"/><circle cx="1423.2" cy="1113.6" r="5"/><circle cx="1418.8" cy="1163.4" r="5"/>
<circle cx="1453.5" cy="1181.3" r="5"/><circle cx="1465.7" cy="1187.5" r="5"/><circle cx="1471.5" cy="1178.1" r="5"/><circle cx="1471.5" cy="1190" r="5"/>
</g>
<path d="M1352.9 1052.8 L1463.5 1183.4" stroke="#111" stroke-width="2"/>
<text x="1551.3" y="1008" font-size="22" fill="#111" text-anchor="end"><tspan font-style="italic">r</tspan>=-0.94</text>
<text x="1551.3" y="1032" font-size="22" fill="#111" text-anchor="end"><tspan font-style="italic">p</tspan>&lt;0.01</text>
</svg>
</body></html>
